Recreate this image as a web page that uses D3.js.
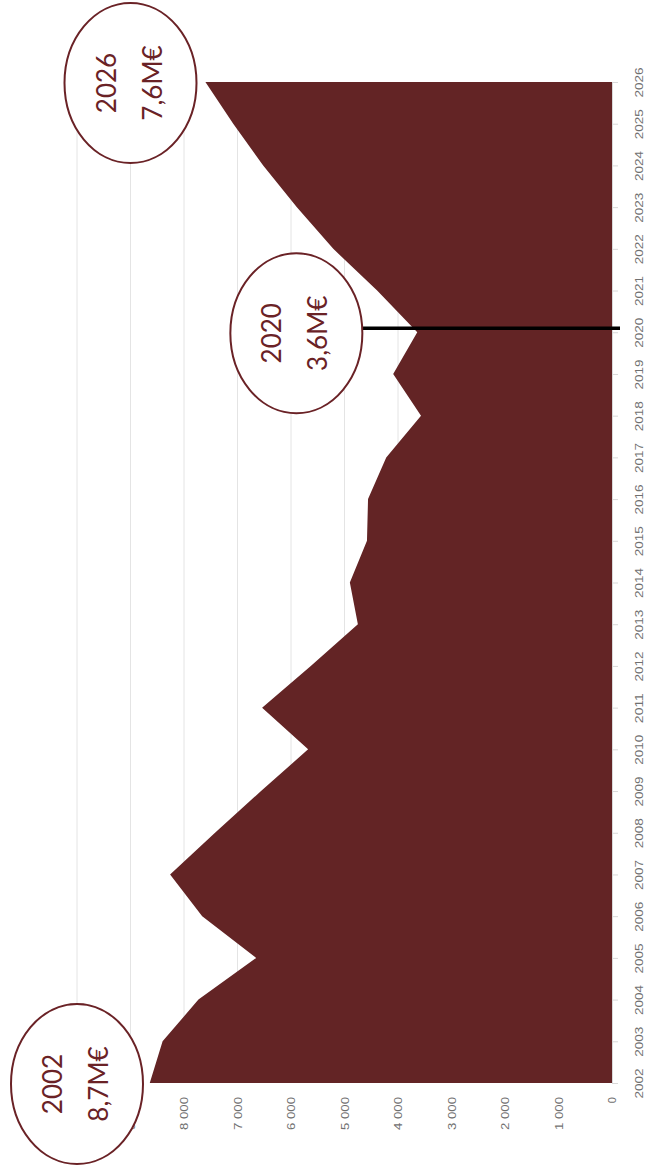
<!DOCTYPE html>
<html><head><meta charset="utf-8">
<script src="https://cdn.jsdelivr.net/npm/d3@7"></script>
<style>html,body{margin:0;padding:0;background:#fff}</style>
</head><body>
<svg id="c" width="648" height="1171"></svg>
<script>
const years = ["2002","2003","2004","2005","2006","2007","2008","2009","2010","2011","2012","2013","2014",
               "2015","2016","2017","2018","2019","2020","2021","2022","2023","2024","2025","2026"];
const values = [8640, 8400, 7730, 6650, 7660, 8260, 7420, 6560, 5680, 6540, 5630, 4750, 4900,
                4580, 4560, 4220, 3570, 4090, 3640, 4390, 5210, 5890, 6520, 7080, 7600];
const valueTicks = [0, 1000, 2000, 3000, 4000, 5000, 6000, 7000, 8000, 9000, 10000];
const valueTickLabels = ["0","1 000","2 000","3 000","4 000","5 000","6 000","7 000","8 000","9 000","10 000"];
const highlightYear = "2020";
const annoYears = ["2002", "2020", "2026"];
const annoTexts = ["8,7M€", "3,6M€", "7,6M€"];

const svg = d3.select("#c");
svg.append("rect").attr("width",648).attr("height",1171).attr("fill","#fff");

const y = d3.scalePoint().domain(years).range([1083, 82]);
const x = d3.scaleLinear().domain([0, 10000]).range([612, 77]);
const [yBottom, yTop] = y.range();

// gridlines
svg.append("g").selectAll("line").data(valueTicks.filter(v => v > 0)).join("line")
  .attr("x1", d => x(d)).attr("x2", d => x(d))
  .attr("y1", yTop).attr("y2", yBottom)
  .attr("stroke", "#e4e4e4").attr("stroke-width", 1);

// area
const area = d3.area()
  .y((d, i) => y(years[i]))
  .x0(x(0))
  .x1(d => x(d));
svg.append("path").datum(values).attr("d", area).attr("fill", "#632425");

// value axis (bottom, labels rotated)
const vAxis = d3.axisBottom(x).tickValues(valueTicks)
  .tickFormat((d, i) => valueTickLabels[i]).tickSize(0);
const gv = svg.append("g").attr("transform", `translate(0,${yBottom})`).call(vAxis);
gv.select(".domain").remove();
gv.selectAll("text")
  .attr("y", null).attr("dy", "0.35em")
  .attr("transform", "translate(0,14) rotate(-90)")
  .attr("text-anchor", "end")
  .attr("font-family", "'Liberation Sans', Arial, sans-serif")
  .attr("font-size", 11)
  .attr("fill", "#707070")
  .each(function(d){ if (d >= 1000) d3.select(this).attr("textLength", 33).attr("lengthAdjust","spacingAndGlyphs"); });

// category axis (right)
const cAxis = d3.axisRight(y).tickSizeInner(6).tickSizeOuter(0);
const gc = svg.append("g").attr("transform", `translate(${x(0)},0)`).call(cAxis);
gc.select(".domain").attr("stroke", "#d9d9d9");
gc.selectAll(".tick line").attr("stroke", "#d9d9d9");
gc.selectAll("text")
  .attr("x", null).attr("dy", "0.35em")
  .attr("transform", "translate(27,0) rotate(-90)")
  .attr("text-anchor", "middle")
  .attr("font-family", "'Liberation Sans', Arial, sans-serif")
  .attr("font-size", 11.5)
  .attr("fill", "#707070")
  .attr("textLength", 30).attr("lengthAdjust", "spacingAndGlyphs");

// annotation ellipses
const annoCenters = { "2002": 10000, "2020": 5900, "2026": 9000 };
const rx = 66, ry = 80;
const red = "#6a2226";

// highlight line for 2020
const hcx = x(annoCenters[highlightYear]);
svg.append("line")
  .attr("x1", hcx + rx).attr("x2", x(0) + 8)
  .attr("y1", y(highlightYear) - 4).attr("y2", y(highlightYear) - 4)
  .attr("stroke", "#000").attr("stroke-width", 3.5);

const ga = svg.append("g").selectAll("g").data(annoYears).join("g")
  .attr("transform", d => `translate(${x(annoCenters[d])},${y(d) + 1})`);
ga.append("ellipse").attr("rx", rx).attr("ry", ry)
  .attr("fill", "#fff").attr("stroke", red).attr("stroke-width", 2);
ga.append("text")
  .attr("transform", "translate(-24,0) rotate(-90)")
  .attr("dy", "0.35em").attr("text-anchor", "middle")
  .attr("font-family", "Lato, 'Open Sans', sans-serif").attr("font-size", 26)
  .attr("fill", red)
  .text(d => d);
ga.append("text")
  .attr("transform", "translate(22,0) rotate(-90)")
  .attr("dy", "0.35em").attr("text-anchor", "middle")
  .attr("font-family", "Lato, 'Open Sans', sans-serif").attr("font-size", 26)
  .attr("fill", red)
  .text((d, i) => annoTexts[i]);
</script>
</body></html>
